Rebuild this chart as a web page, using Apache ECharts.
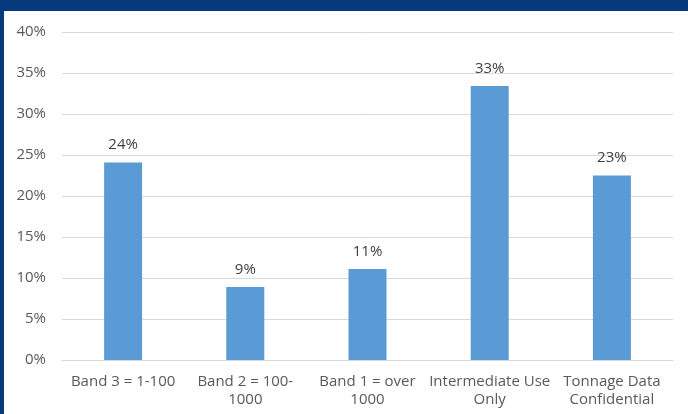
<!DOCTYPE html>
<html>
<head>
<meta charset="utf-8">
<script src="https://cdn.jsdelivr.net/npm/echarts@6/dist/echarts.min.js"></script>
<style>
html,body{margin:0;padding:0;width:688px;height:414px;overflow:hidden;background:#063a7c;}
#chart{position:absolute;left:4px;top:11px;width:684px;height:403px;background:#ffffff;}
</style>
</head>
<body>
<div id="chart"></div>
<script>
const categories = ["Band 3 = 1-100", "Band 2 = 100-\n1000", "Band 1 = over\n1000", "Intermediate Use\nOnly", "Tonnage Data\nConfidential"];
const values = [24.1, 8.9, 11.1, 33.4, 22.5];
const yTicks = [0, 5, 10, 15, 20, 25, 30, 35, 40];

const chart = echarts.init(document.getElementById('chart'));
chart.setOption({
  animation: false,
  backgroundColor: '#ffffff',
  grid: { left: 58, top: 21, width: 611, height: 328, containLabel: false },
  xAxis: {
    type: 'category',
    data: categories,
    axisLine: { show: true, lineStyle: { color: '#d9d9d9', width: 1 } },
    axisTick: { show: false },
    axisLabel: { color: '#595959', fontFamily: 'Open Sans', fontSize: 15, lineHeight: 18, margin: 13, interval: 0 }
  },
  yAxis: {
    type: 'value',
    min: yTicks[0],
    max: yTicks[yTicks.length - 1],
    interval: 5,
    axisLine: { show: false },
    axisTick: { show: false },
    splitLine: { lineStyle: { color: '#d9d9d9', width: 1 } },
    axisLabel: { color: '#595959', fontFamily: 'Open Sans', fontSize: 15, margin: 16, formatter: v => v + '%' }
  },
  series: [{
    type: 'bar',
    data: values,
    barWidth: 38,
    itemStyle: { color: '#5b9bd5' },
    label: {
      show: true,
      position: 'top',
      distance: 10,
      color: '#404040',
      fontFamily: 'Open Sans',
      fontSize: 15,
      formatter: p => Math.round(p.value) + '%'
    }
  }]
});
</script>
</body>
</html>
